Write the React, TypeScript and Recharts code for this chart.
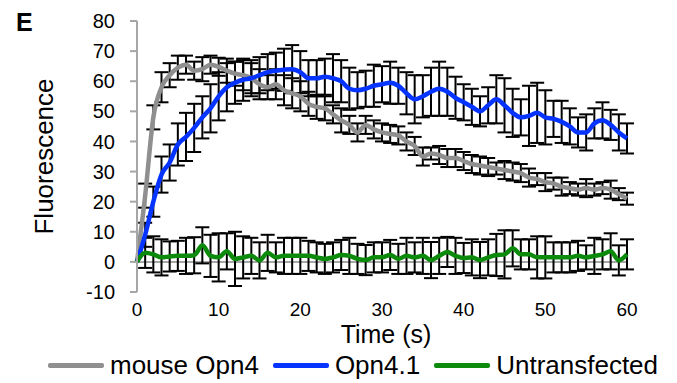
import React from 'react';
import { LineChart, Line, XAxis, YAxis, ErrorBar, ReferenceLine, Legend } from 'recharts';

const FONT = '"Liberation Sans", Arial, sans-serif';

const time = [
  0, 1, 2, 3, 4, 5, 6, 7, 8, 9, 10, 11, 12, 13, 14, 15, 16, 17, 18, 19, 20,
  21, 22, 23, 24, 25, 26, 27, 28, 29, 30, 31, 32, 33, 34, 35, 36, 37, 38, 39, 40,
  41, 42, 43, 44, 45, 46, 47, 48, 49, 50, 51, 52, 53, 54, 55, 56, 57, 58, 59, 60,
];

// mouse Opn4
const mouseOpn4 = [
  0, 22, 48, 58, 62, 64.5, 65.5, 63.5, 64, 65.5, 64.8, 63.5, 62.5, 62, 61, 59, 58, 59, 57, 56, 55,
  52.5, 51.5, 51, 49, 47, 45.5, 43, 45.5, 44, 43, 42.5, 42, 40, 38.5, 35, 36, 35.5, 34.5, 34.5, 33.5,
  32.5, 32, 31.5, 31, 30.5, 30, 29.5, 28, 27.5, 26.5, 26, 25, 24.5, 24, 24.5, 24, 24.5, 24, 22.5, 21,
];
const mouseOpn4Err = [
  0, 4, 4, 5, 4, 4, 3, 3, 4, 3, 3, 4, 4, 5, 5, 5, 4, 5, 5, 5, 5,
  4, 4, 4, 3, 4, 3, 3, 3, 3, 3, 3, 3, 3, 3, 3, 2, 3, 3, 3, 3,
  3, 3, 3, 2, 3, 3, 3, 3, 2, 3, 2, 3, 2, 2, 3, 2, 2, 3, 2, 2,
];

// Opn4.1
const opn41 = [
  0, 9, 20, 29, 33, 39, 41.5, 44.5, 48, 51, 55, 58, 59.5, 60.5, 61, 62, 63, 63.5, 63.8, 64, 63,
  61, 61, 61.5, 61, 60, 57.5, 57, 57.5, 58.5, 59, 59.5, 58.5, 56, 54, 55, 56.5, 57.5, 56.5, 54.5, 53,
  51.5, 50, 52, 54, 52, 49.5, 48, 48.5, 49.5, 48, 47.5, 46.5, 45, 43, 43, 46, 47, 45.5, 43, 41,
];
const opn41Err = [
  0, 4, 5, 6, 6, 7, 8, 8, 7, 8, 8, 8, 7, 7, 6, 6, 6, 6, 7, 8, 7,
  6, 6, 6, 8, 7, 7, 6, 6, 7, 6, 7, 6, 7, 8, 7, 8, 9, 8, 7, 6,
  6, 5, 6, 8, 9, 8, 6, 10, 10, 9, 6, 7, 6, 5, 6, 5, 6, 5, 6, 5,
];

// Untransfected
const untransfected = [
  0, 3, 2.5, 1.5, 1.8, 2, 2, 2.2, 5.5, 2, 1.5, 3.5, 1, 1.5, 2, 0.5, 3, 1.5, 2, 2, 2,
  2, 1.5, 1, 1.5, 2.3, 2, 1, 0.6, 1.5, 1.5, 2.3, 1, 2, 1.5, 2, 0.6, 2, 3.3, 2, 1.3,
  1.5, 0.6, 1.5, 2.3, 2.5, 4.5, 2.5, 2.5, 1.5, 1.5, 1.5, 1.5, 1.5, 2, 1.5, 2, 2.5, 3.5, 0.5, 2.5,
];
const untransfectedErr = [
  0, 5, 6, 6, 5, 5, 6, 6, 6, 7, 8, 6, 9, 7, 6, 6, 6, 5, 6, 6, 6,
  5, 5, 5, 5, 5, 6, 5, 5, 5, 5, 5, 5, 6, 5, 6, 6, 6, 5, 6, 5,
  6, 6, 6, 7, 8, 6, 5, 5, 7, 7, 5, 5, 5, 5, 4, 6, 5, 6, 5, 5,
];

const xTicks = [0, 10, 20, 30, 40, 50, 60];
const yTicks = [-10, 0, 10, 20, 30, 40, 50, 60, 70, 80];

const series = [
  { key: 'mouse', name: 'mouse Opn4', color: '#8f8f8f' },
  { key: 'opn41', name: 'Opn4.1', color: '#0533ff' },
  { key: 'untr', name: 'Untransfected', color: '#0b8a0b' },
];

const data = time.map((t, i) => ({
  t,
  mouse: mouseOpn4[i],
  mouseErr: mouseOpn4Err[i],
  opn41: opn41[i],
  opn41Err: opn41Err[i],
  untr: untransfected[i],
  untrErr: untransfectedErr[i],
}));

const renderLegend = () => (
  <div
    style={{
      height: 41,
      display: 'flex',
      alignItems: 'center',
      paddingTop: 6,
      paddingLeft: 48,
      boxSizing: 'border-box',
      fontFamily: FONT,
      fontSize: 26,
      color: '#000',
      whiteSpace: 'nowrap',
    }}
  >
    {series.map((s) => (
      <div key={s.key} style={{ display: 'flex', alignItems: 'center', marginRight: 14, flexShrink: 0 }}>
        <span style={{ display: 'inline-block', width: 56, height: 5, borderRadius: 2, background: s.color, marginRight: 6 }} />
        <span>{s.name}</span>
      </div>
    ))}
  </div>
);

export default function App() {
  return (
    <div style={{ position: 'absolute', left: 0, top: 0, width: 677, height: 383, background: '#fff' }}>
      <div style={{ position: 'absolute', left: 16, top: 10, fontFamily: FONT, fontWeight: 'bold', fontSize: 25, lineHeight: '25px' }}>E</div>
      <LineChart width={677} height={383} data={data} margin={{ top: 21, right: 50, bottom: 0, left: 0 }}>
        <XAxis
          dataKey="t"
          type="number"
          domain={[0, 60]}
          ticks={xTicks}
          axisLine={false}
          tickLine={false}
          tickSize={0}
          tickMargin={11}
          height={50}
          tick={{ fontSize: 19, fill: '#000', fontFamily: FONT }}
          label={{ value: 'Time (s)', position: 'insideBottom', offset: -1, dx: 4, fontSize: 25, fill: '#000', fontFamily: FONT }}
        />
        <YAxis
          type="number"
          domain={[-10, 80]}
          ticks={yTicks}
          width={137}
          interval={0}
          stroke="#a6a6a6"
          strokeWidth={2}
          tickSize={7}
          tickMargin={15}
          tick={{ fontSize: 20, fill: '#000', fontFamily: FONT }}
          label={{ value: 'Fluorescence', angle: -90, position: 'center', dx: -25, fontSize: 26, fill: '#000', fontFamily: FONT }}
        />
        <ReferenceLine y={0} stroke="#a6a6a6" strokeWidth={2} />
        {series.map((s) => (
          <Line
            key={`${s.key}-err`}
            dataKey={s.key}
            stroke="none"
            dot={false}
            activeDot={false}
            legendType="none"
            isAnimationActive={false}
          >
            <ErrorBar dataKey={`${s.key}Err`} direction="y" width={7} stroke="#000" strokeWidth={2} isAnimationActive={false} />
          </Line>
        ))}
        {series.map((s) => (
          <Line
            key={s.key}
            type="monotone"
            dataKey={s.key}
            name={s.name}
            stroke={s.color}
            strokeWidth={4.5}
            dot={false}
            activeDot={false}
            isAnimationActive={false}
          />
        ))}
        <Legend verticalAlign="bottom" content={renderLegend} wrapperStyle={{ left: 0, width: 677 }} />
      </LineChart>
    </div>
  );
}
